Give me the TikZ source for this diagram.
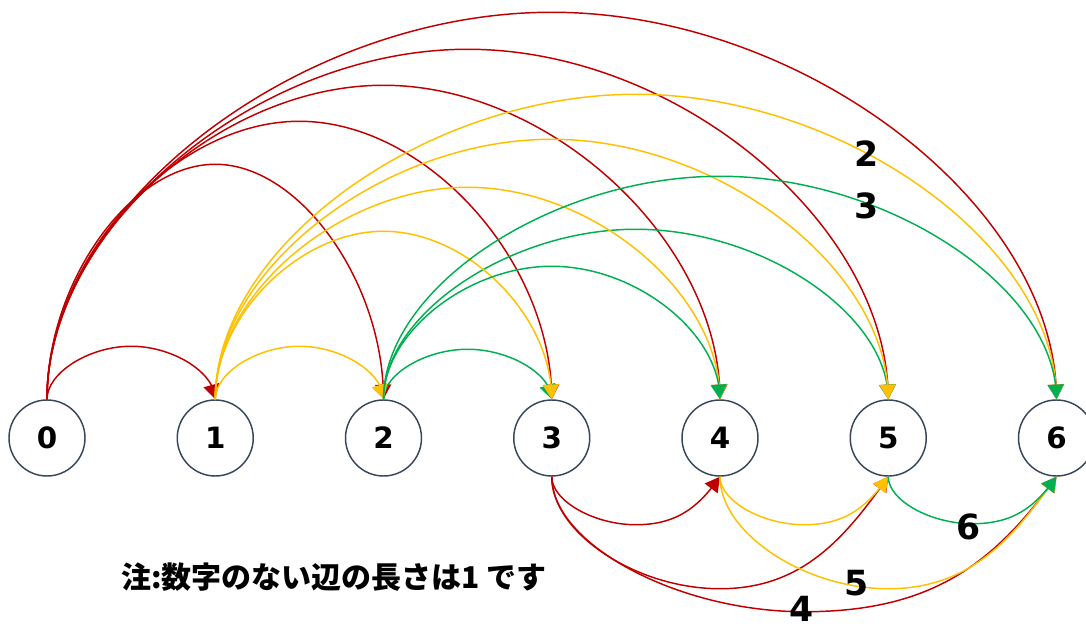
\documentclass[tikz,border=0pt]{standalone}
\usepackage{fontspec}
\setmainfont{DejaVu Sans}
\newfontfamily\jpfont{Noto Sans CJK JP}
\usetikzlibrary{arrows.meta,calc,bending}
\definecolor{cred}{RGB}{192,0,0}
\definecolor{cyel}{RGB}{255,192,0}
\definecolor{cgrn}{RGB}{0,176,80}
\definecolor{cnode}{RGB}{55,71,89}
\newcommand\TopArc[4]{%
  \draw[arc,#4] (n#1.north) .. controls +(0,{-0.5*#3}) and +({-0.5*(#2-#1)*84.125},0) ..
    ($(n#1.north)!0.5!(n#2.north)+(0,-#3)$) .. controls +({0.5*(#2-#1)*84.125},0) and +(0,{-0.5*#3}) .. (n#2.north);}
\newcommand\BotArc[4]{%
  \draw[arc,#4] (n#1.south) .. controls +(0,{0.5*#3}) and +({-0.5*(#2-#1)*84.125},0) ..
    ($(n#1.south)!0.5!(n#2.south)+(0,#3)$) .. controls +({0.5*(#2-#1)*84.125},0) and +({-0.25*(#2-#1)*84.125},{0.35*(#2-#1)*84.125}) .. (n#2.south);}
\begin{document}
\begin{tikzpicture}[x=0.75pt,y=-0.75pt,
  vtx/.style={circle,draw=cnode,line width=1.1pt,fill=white,minimum size=57pt,inner sep=0pt,
    font=\fontsize{22}{26}\selectfont\bfseries},
  arc/.style={line width=1.1pt,-{Triangle[length=11pt,width=12pt,flex]}},
  lbl/.style={font=\fontsize{26}{30}\selectfont\bfseries,inner sep=0pt},
  note/.style={font=\jpfont\bfseries\fontsize{22.5}{26}\selectfont,inner sep=0pt}]
\useasboundingbox (0,0) rectangle (1086,631);
\foreach \i in {0,...,6} {
  \node[vtx] (n\i) at ({47+168.25*\i},438) {\i};
}
% red arcs from 0
\TopArc{0}{1}{53}{cred}
\TopArc{0}{2}{235}{cred}
\TopArc{0}{3}{278}{cred}
\TopArc{0}{4}{314}{cred}
\TopArc{0}{5}{350}{cred}
\TopArc{0}{6}{387}{cred}
% green arcs (under yellow)
\TopArc{2}{3}{50}{cgrn}
\TopArc{2}{5}{170}{cgrn}
% yellow arcs from 1
\TopArc{1}{2}{53}{cyel}
\TopArc{1}{3}{168}{cyel}
\TopArc{1}{4}{212}{cyel}
\TopArc{1}{5}{260}{cyel}
\TopArc{1}{6}{305}{cyel}
% green arcs (over yellow)
\TopArc{2}{4}{133}{cgrn}
\TopArc{2}{6}{223}{cgrn}
% bottom arcs
\BotArc{3}{4}{48}{cred}
\BotArc{3}{5}{112}{cred}
\BotArc{3}{6}{135}{cred}
\BotArc{4}{5}{48}{cyel}
\BotArc{4}{6}{112}{cyel}
\BotArc{5}{6}{47}{cgrn}
% edge labels
\node[lbl] (l16) at (867,154) {2};
\node[lbl] (l26) at (867,206) {3};
\node[lbl] (l36) at (802,609) {4};
\node[lbl] (l46) at (857,583) {5};
\node[lbl] (l56) at (969,527) {6};
% note
\node[note] (nt) at (334,577) {注:数字のない辺の長さは1 です};
\end{tikzpicture}
\end{document}
